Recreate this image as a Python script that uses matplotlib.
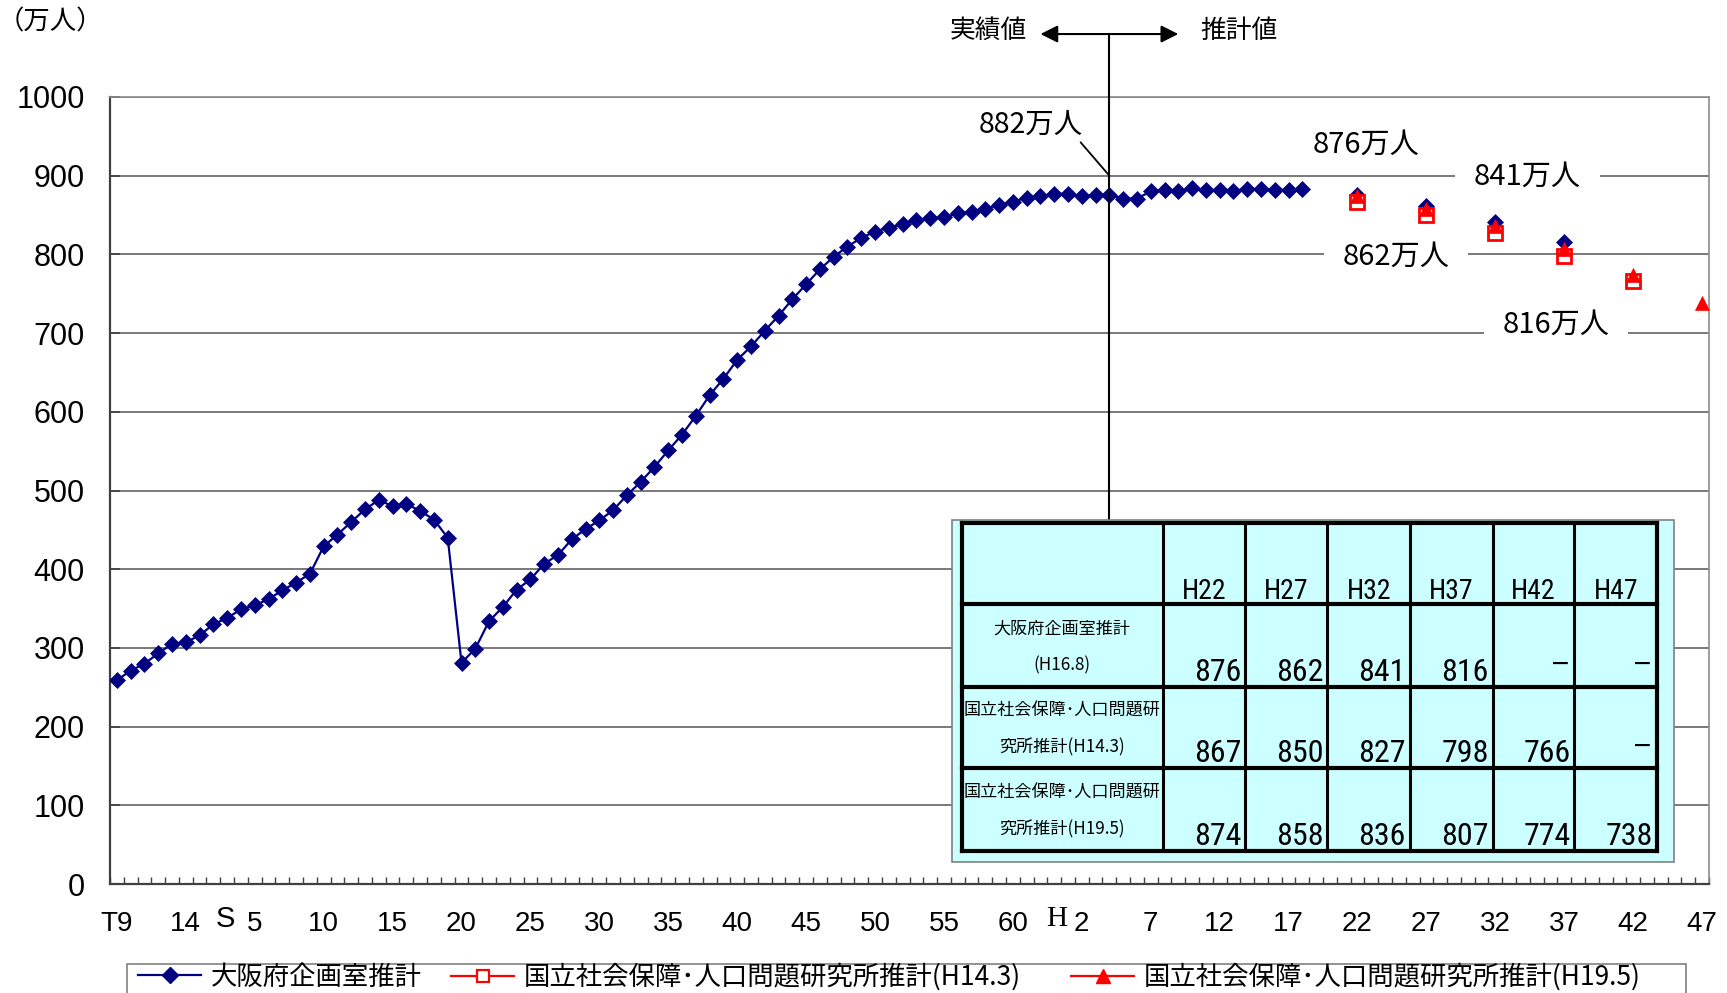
import matplotlib
matplotlib.use('Agg')
import matplotlib.pyplot as plt
from matplotlib.lines import Line2D
from matplotlib.patches import Rectangle
from matplotlib import font_manager

W, H = 1727, 993
CJK = 'Noto Sans CJK JP'
_names = {f.name for f in font_manager.fontManager.ttflist}
NARROW = 'Liberation Sans'
for _cand in ['Liberation Sans Narrow', 'Roboto Condensed', 'DejaVu Sans Condensed',
              'Noto Sans Condensed', 'Open Sans Condensed']:
    if _cand in _names:
        NARROW = _cand
        break
HAS_NARROW = NARROW != 'Liberation Sans'
plt.rcParams['font.family'] = [CJK, 'DejaVu Sans']

# ---------------- data ----------------
categories = list(range(1920, 2036))          # T9 ... H47 (one category per year)
actual_years = list(range(1920, 2007))
actual_values = [259, 271, 280, 293, 305, 307, 316, 330, 338, 349,
                 354, 362, 373, 383, 394, 429, 444, 460, 476, 488,
                 480, 483, 474, 463, 440, 281, 299, 334, 352, 374,
                 387, 407, 418, 438, 451, 462, 475, 494, 511, 530,
                 551, 571, 595, 621, 642, 666, 683, 703, 722, 743,
                 762, 781, 797, 810, 821, 829, 834, 838, 844, 846,
                 847, 852, 854, 858, 863, 867, 872, 874, 877, 877,
                 874, 875, 875, 871, 871, 880, 882, 881, 884, 882,
                 882, 881, 883, 883, 882, 882, 883]
proj_years = [2010, 2015, 2020, 2025, 2030, 2035]
proj_labels = ['H22', 'H27', 'H32', 'H37', 'H42', 'H47']
osaka_proj = [876, 862, 841, 816, None, None]
ipss_h14 = [867, 850, 827, 798, 766, None]
ipss_h19 = [874, 858, 836, 807, 774, 738]
series_names = ['大阪府企画室推計',
                '国立社会保障･人口問題研究所推計(H14.3)',
                '国立社会保障･人口問題研究所推計(H19.5)']
table_row_labels = [('大阪府企画室推計', '(H16.8)'),
                    ('国立社会保障･人口問題研', '究所推計(H14.3)'),
                    ('国立社会保障･人口問題研', '究所推計(H19.5)')]
xtick_labels = ['T9', '14', '5', '10', '15', '20', '25', '30', '35', '40', '45', '50',
                '55', '60', '2', '7', '12', '17', '22', '27', '32', '37', '42', '47']
era_marks = [('S', 1930), ('H', 1990)]
yticks = [0, 100, 200, 300, 400, 500, 600, 700, 800, 900, 1000]
peak_label = '882万人'
proj_callouts = ['876万人', '862万人', '841万人', '816万人']

NAVY = '#000080'
RED = '#FF0000'


def fx(x):
    return x / W


def fy(y):
    return 1 - y / H


def cat(year):
    return categories.index(year)


fig = plt.figure(figsize=(W / 100, H / 100), dpi=100)
ax = fig.add_axes([fx(110), fy(884), (1709 - 110) / W, (884 - 97) / H])
ax.set_xlim(-0.5, len(categories) - 0.5)
ax.set_ylim(0, 1000)
ax.set_axisbelow(True)

# grid / spines
ax.yaxis.grid(True, color='#555555', lw=1.1)
for s in ['top', 'right']:
    ax.spines[s].set_color('#8c8c8c')
    ax.spines[s].set_linewidth(1.2)
for s in ['left', 'bottom']:
    ax.spines[s].set_color('#404040')
    ax.spines[s].set_linewidth(1.6)

ax.set_yticks(yticks)
ax.set_yticklabels([str(v) for v in yticks], family=['Liberation Sans', CJK], fontsize=22)
ax.tick_params(axis='y', direction='in', length=7, width=1.2, color='#404040', pad=18)

ax.set_xticks([cat(y) for y in categories[::5]])
ax.set_xticklabels(xtick_labels, family=['Liberation Sans', CJK], fontsize=20)
ax.set_xticks([i - 0.5 for i in range(len(categories) + 1)], minor=True)
ax.tick_params(axis='x', which='major', length=0, pad=19.5)
ax.tick_params(axis='x', which='minor', direction='in', length=5, width=1, color='#404040')

for letter, yr in era_marks:
    fam = ['Liberation Serif'] if letter == 'H' else ['Liberation Sans']
    off = -25 if letter == 'H' else -29
    ax.annotate(letter, xy=(cat(yr), 0), xytext=(off, -35), textcoords='offset pixels',
                ha='center', va='center', fontsize=21, family=fam, annotation_clip=False)

# ---------------- series ----------------
ax_x = [cat(y) for y in actual_years]
ax.plot(ax_x, actual_values, color=NAVY, lw=1.6, marker='D', ms=8,
        mfc=NAVY, mec=NAVY, mew=0.5, zorder=3)
px = [cat(y) for y in proj_years]


def pts(vals):
    xs = [x for x, v in zip(px, vals) if v is not None]
    ys = [v for v in vals if v is not None]
    return xs, ys


xs, ys = pts(osaka_proj)
ax.plot(xs, ys, ls='none', marker='D', ms=8, mfc=NAVY, mec=NAVY, mew=0.5, zorder=3)
xs, ys = pts(ipss_h14)
ax.plot(xs, ys, ls='none', marker='s', ms=9.5, mfc='white', mec=RED, mew=2, zorder=4)
xs, ys = pts(ipss_h19)
ax.plot(xs, ys, ls='none', marker='^', ms=10, mfc=RED, mec=RED, mew=0.5, zorder=5)

# ---------------- annotations ----------------
ax.plot([72, 72], [1080, 440], color='black', lw=1.5, clip_on=False, zorder=6)
ax.annotate('', xy=(67, 1080), xytext=(77, 1080),
            arrowprops=dict(arrowstyle='<|-|>', color='black', lw=1.5,
                            mutation_scale=26, shrinkA=0, shrinkB=0),
            annotation_clip=False)
fig.text(fx(988), fy(31), '実績値', ha='center', va='center', fontsize=18.5)
fig.text(fx(1239), fy(31), '推計値', ha='center', va='center', fontsize=18.5)
fig.text(fx(-2), fy(22), '（万人）', ha='left', va='center', fontsize=19)

ax.annotate(peak_label, xy=(72, 900), xytext=(66.3, 965),
            ha='center', va='center', fontsize=20.5,
            arrowprops=dict(arrowstyle='-', color='black', lw=1.3,
                            shrinkA=0, shrinkB=0, relpos=(0.93, 0.1)),
            annotation_clip=False, zorder=6)

callout_pos = [(90.65, 939, False), (92.8, 797, True), (102.3, 899, True), (104.4, 710, True)]
for txt, (cx, cy, boxed) in zip(proj_callouts, callout_pos):
    kw = {}
    if boxed:
        kw['bbox'] = dict(boxstyle='square,pad=0.65', fc='white', ec='none')
    ax.text(cx, cy, txt, ha='center', va='center', fontsize=21, zorder=2.5, **kw)

# ---------------- table ----------------
fig.add_artist(Rectangle((fx(952), fy(862)), (1674 - 952) / W, (862 - 520) / H,
                         transform=fig.transFigure, fc='#CCFFFF', ec='#808080', lw=1.2, zorder=5))
col_x = [961.5, 1162.6, 1245.2, 1327.4, 1410, 1492.7, 1574.4, 1657]
row_y = [523.3, 604.3, 686.7, 768.3, 851]
for yy in row_y:
    fig.add_artist(Line2D([fx(col_x[0]), fx(col_x[-1])], [fy(yy), fy(yy)],
                          transform=fig.transFigure, color='black', lw=3, zorder=6))
for xx in col_x:
    fig.add_artist(Line2D([fx(xx), fx(xx)], [fy(row_y[0]), fy(row_y[-1])],
                          transform=fig.transFigure, color='black',
                          lw=3 if xx in (col_x[0], col_x[-1]) else 2.2, zorder=6))

num_size = 23 if HAS_NARROW else 19
hdr_size = 20 if HAS_NARROW else 16.5
for j, lab in enumerate(proj_labels):
    xc = (col_x[j + 1] + col_x[j + 2]) / 2
    fig.text(fx(xc), fy(row_y[1] - 5), lab, ha='center', va='baseline',
             fontsize=hdr_size, family=[NARROW, CJK], zorder=7)

rows = [osaka_proj, ipss_h14, ipss_h19]
xc0 = (col_x[0] + col_x[1]) / 2
for i, (vals, (l1, l2)) in enumerate(zip(rows, table_row_labels)):
    top, bot = row_y[i + 1], row_y[i + 2]
    fig.text(fx(xc0), fy(top + 24), l1, ha='center', va='center', fontsize=12.3, zorder=7)
    fig.text(fx(xc0), fy(top + 61), l2, ha='center', va='center', fontsize=12.3, zorder=7)
    for j, v in enumerate(vals):
        xr = col_x[j + 2] - 4
        if v is None:
            fig.text(fx(xr), fy(bot - 22), '－', ha='right', va='center',
                     fontsize=15, fontweight='bold', zorder=7)
        else:
            fig.text(fx(xr), fy(bot - 6), str(v), ha='right', va='baseline',
                     fontsize=num_size, family=[NARROW, CJK], zorder=7)

# ---------------- legend ----------------
fig.add_artist(Rectangle((fx(127), fy(1010)), (1686 - 127) / W, (1010 - 964) / H,
                         transform=fig.transFigure, fc='white', ec='#808080', lw=1.2, zorder=4))
handles = [Line2D([], [], color=NAVY, lw=1.6, marker='D', ms=8, mfc=NAVY, mec=NAVY),
           Line2D([], [], color=RED, lw=1.6, marker='s', ms=8.5, mfc='white', mec=RED, mew=1.6),
           Line2D([], [], color=RED, lw=1.6, marker='^', ms=10, mfc=RED, mec=RED)]
legend_x = [138, 451, 1071]
for hnd, name, lx in zip(handles, series_names, legend_x):
    fig.legend([hnd], [name], loc='center left', bbox_to_anchor=(fx(lx), fy(977)),
               frameon=False, fontsize=19, handlelength=2.4, handletextpad=0.35,
               borderpad=0, borderaxespad=0)

fig.savefig('out.png', dpi=100)
